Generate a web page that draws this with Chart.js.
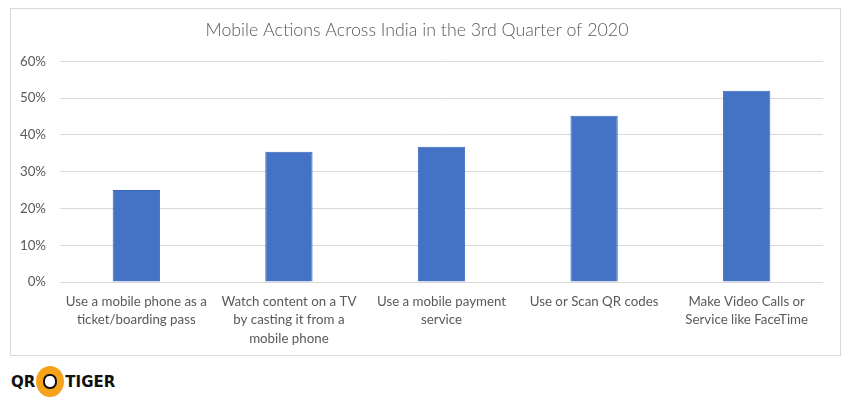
<!DOCTYPE html>
<html>
<head>
<meta charset="utf-8">
<script src="https://cdn.jsdelivr.net/npm/chart.js@4"></script>
<style>
  body { margin: 0; background: #fff; width: 850px; height: 413px; position: relative; overflow: hidden; }
  #frame { position: absolute; left: 10px; top: 8px; width: 829px; height: 346px; border: 1px solid #d9d9d9; }
  #frame canvas { position: absolute; left: 0; top: 0; }
  #logo { position: absolute; left: 11px; top: 366px; height: 31px; display: flex; align-items: center;
          font-family: "DejaVu Sans", sans-serif; font-weight: bold; font-size: 15px; color: #111; }
  #logo .dot { width: 28px; height: 31px; border-radius: 50%; background: #f7a21b; margin: 0 1px; position: relative; }
  #logo .dot::after { content: ""; position: absolute; left: 7px; top: 8px; width: 10px; height: 11px;
          border: 2px solid #111; border-radius: 45%; background: #fff; }
</style>
</head>
<body>
<div id="frame"><canvas id="chart" width="829" height="346"></canvas></div>
<div id="logo"><span>QR</span><span class="dot"></span><span>TIGER</span></div>
<script>
const chartTitle = 'Mobile Actions Across India in the 3rd Quarter of 2020';
const categories = [
  ['Use a mobile phone as a', 'ticket/boarding pass'],
  ['Watch content on a TV', 'by casting it from a', 'mobile phone'],
  ['Use a mobile payment', 'service'],
  ['Use or Scan QR codes'],
  ['Make Video Calls or', 'Service like FaceTime']
];
const shares = [25, 35.4, 36.8, 45.2, 52];
const yTicks = [0, 10, 20, 30, 40, 50, 60];

const textColor = '#595959';
const fontFamily = 'Lato, "Open Sans", sans-serif';

new Chart(document.getElementById('chart').getContext('2d'), {
  type: 'bar',
  data: {
    labels: categories,
    datasets: [{
      label: 'Share',
      data: shares,
      backgroundColor: '#4472C4',
      borderColor: '#3a67bd',
      borderWidth: 1,
      categoryPercentage: 1,
      barPercentage: 0.31
    }]
  },
  options: {
    responsive: false,
    animation: false,
    devicePixelRatio: 1,
    layout: { padding: { left: 0, right: 17, top: 0, bottom: 0 } },
    plugins: {
      legend: { display: false },
      tooltip: { enabled: false },
      title: {
        display: true,
        text: chartTitle,
        color: textColor,
        font: { family: fontFamily, size: 17.8, weight: 300 },
        padding: { top: 11, bottom: 20 }
      }
    },
    scales: {
      x: {
        grid: { display: false },
        border: { display: false },
        ticks: {
          color: textColor,
          font: { family: fontFamily, size: 13.3, lineHeight: 1.36 },
          padding: 3,
          maxRotation: 0,
          autoSkip: false
        },
        afterFit: (scale) => { scale.height = 73; }
      },
      y: {
        min: 0,
        max: 60,
        afterBuildTicks: (scale) => { scale.ticks = yTicks.map(v => ({ value: v })); },
        grid: { color: '#d9d9d9', lineWidth: 1, drawTicks: false },
        border: { display: false },
        ticks: {
          color: textColor,
          font: { family: fontFamily, size: 13.3 },
          padding: 14,
          callback: (v) => v + '%'
        },
        afterFit: (scale) => { scale.width = 49; }
      }
    }
  }
});
</script>
</body>
</html>
